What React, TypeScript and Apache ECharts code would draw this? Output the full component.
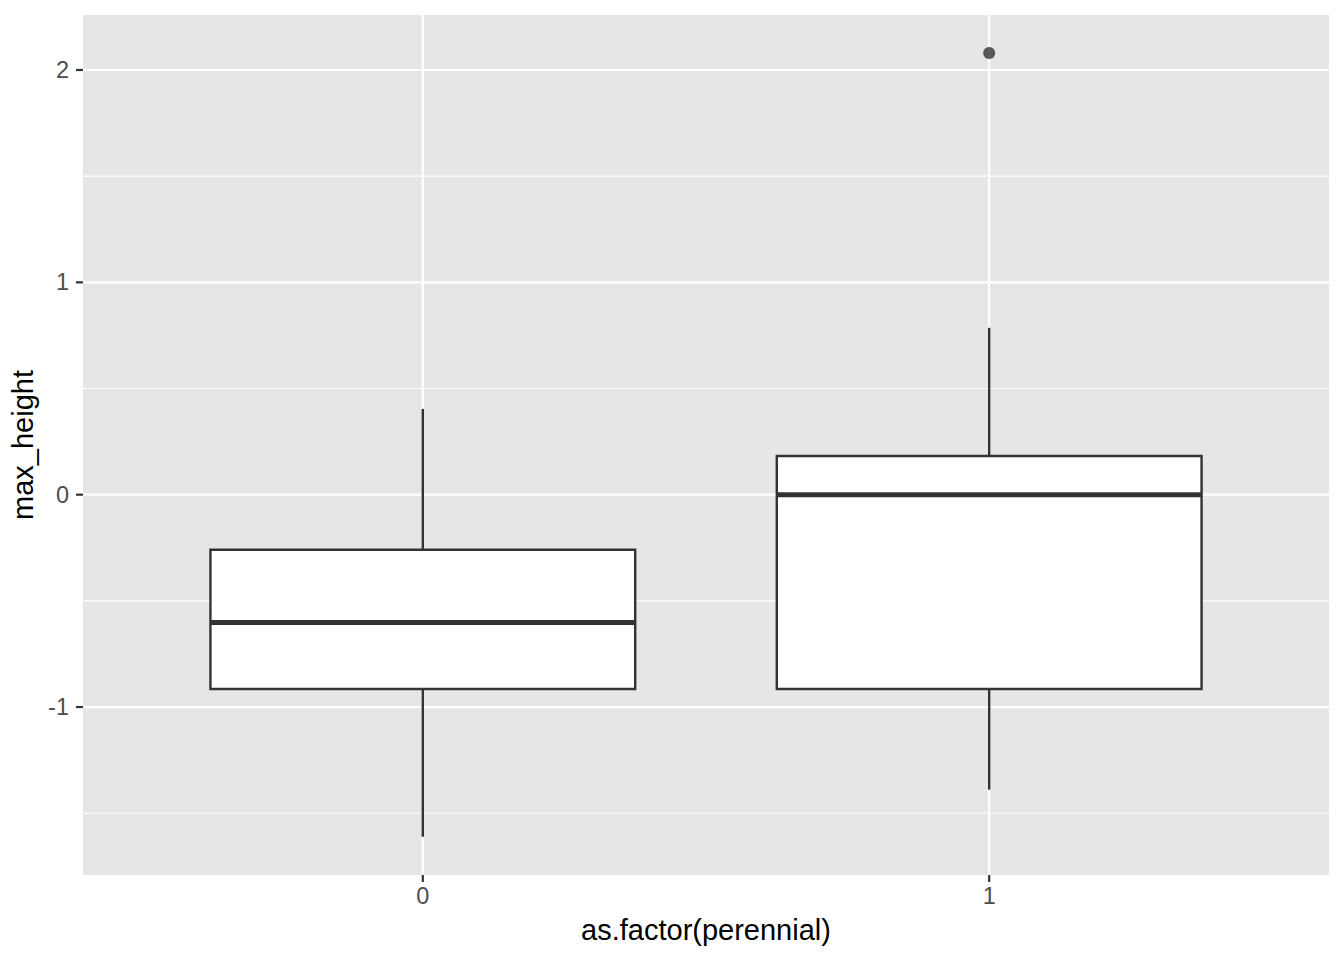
import React, { useEffect, useRef } from "react";
import * as echarts from "echarts";

const categories = ["0", "1"];
const lowerWhisker = [-1.611, -1.389];
const q1 = [-0.915, -0.915];
const median = [-0.602, 0.0];
const q3 = [-0.259, 0.182];
const upperWhisker = [0.404, 0.786];
const outliers: [number, number][] = [[1, 2.08]];
const yMajorTicks = [-1, 0, 1, 2];
const yMinorTicks = [-1.5, -0.5, 0.5, 1.5];
const xPositions = [0, 1];

const DARK = "#333333";
const FONT = "Liberation Sans, Arial, sans-serif";

export default function App() {
  const ref = useRef<HTMLDivElement>(null);
  useEffect(() => {
    if (!ref.current) return;
    const chart = echarts.init(ref.current, undefined, { renderer: "svg" });

    const gridData: [number, number][] = [];
    yMajorTicks.forEach((v) => gridData.push([0, v]));
    yMinorTicks.forEach((v) => gridData.push([1, v]));
    xPositions.forEach((v) => gridData.push([2, v]));

    const boxData = categories.map((_, i) => [
      xPositions[i],
      lowerWhisker[i],
      q1[i],
      median[i],
      q3[i],
      upperWhisker[i],
    ]);

    const option: any = {
      animation: false,
      backgroundColor: "#ffffff",
      textStyle: { fontFamily: FONT },
      grid: {
        left: 83,
        right: 15,
        top: 15,
        bottom: 85,
        show: true,
        backgroundColor: "#E6E6E6",
        borderWidth: 0,
      },
      xAxis: {
        type: "value",
        min: -0.6,
        max: 1.6,
        name: "as.factor(perennial)",
        nameLocation: "middle",
        nameGap: 40,
        nameTextStyle: { color: "#000000", fontSize: 29, fontFamily: FONT },
        axisLine: { show: false },
        splitLine: { show: false },
        axisTick: { show: false },
        axisLabel: {
          show: true,
          customValues: xPositions,
          margin: 9,
          color: "#4D4D4D",
          fontSize: 23.5,
          fontFamily: FONT,
          formatter: (v: number) => {
            const idx = xPositions.indexOf(Math.round(v));
            return idx >= 0 ? categories[idx] : "";
          },
        },
      },
      yAxis: {
        type: "value",
        min: -1.791,
        max: 2.259,
        name: "max_height",
        nameLocation: "middle",
        nameGap: 40,
        nameTextStyle: { color: "#000000", fontSize: 29, fontFamily: FONT },
        axisLine: { show: false },
        splitLine: { show: false },
        axisTick: { show: false },
        axisLabel: {
          show: true,
          customValues: yMajorTicks,
          margin: 14,
          color: "#4D4D4D",
          fontSize: 23.5,
          fontFamily: FONT,
          formatter: (v: number) => String(Math.round(v)),
        },
      },
      series: [
        {
          type: "custom",
          name: "grid",
          z: 1,
          silent: true,
          clip: false,
          data: gridData,
          renderItem: (params: any, api: any) => {
            const kind = api.value(0);
            const v = api.value(1);
            const cs = params.coordSys;
            if (kind === 2) {
              const p = api.coord([v, 0]);
              const bottom = cs.y + cs.height;
              return {
                type: "group",
                children: [
                  {
                    type: "line",
                    shape: { x1: p[0], y1: cs.y, x2: p[0], y2: bottom },
                    style: { stroke: "#ffffff", lineWidth: 2.2 },
                  },
                  {
                    type: "line",
                    shape: { x1: p[0], y1: bottom, x2: p[0], y2: bottom + 7 },
                    style: { stroke: DARK, lineWidth: 2.2 },
                  },
                ],
              };
            }
            const p = api.coord([0, v]);
            if (kind === 0) {
              return {
                type: "group",
                children: [
                  {
                    type: "line",
                    shape: { x1: cs.x, y1: p[1], x2: cs.x + cs.width, y2: p[1] },
                    style: { stroke: "#ffffff", lineWidth: 2.2 },
                  },
                  {
                    type: "line",
                    shape: { x1: cs.x - 7, y1: p[1], x2: cs.x, y2: p[1] },
                    style: { stroke: DARK, lineWidth: 2.2 },
                  },
                ],
              };
            }
            return {
              type: "line",
              shape: { x1: cs.x, y1: p[1], x2: cs.x + cs.width, y2: p[1] },
              style: { stroke: "#ffffff", lineWidth: 1.1 },
            };
          },
        },
        {
          type: "custom",
          name: "boxes",
          z: 2,
          data: boxData,
          renderItem: (params: any, api: any) => {
            const x = api.value(0);
            const lo = api.coord([x, api.value(1)]);
            const b1 = api.coord([x, api.value(2)]);
            const md = api.coord([x, api.value(3)]);
            const b3 = api.coord([x, api.value(4)]);
            const hi = api.coord([x, api.value(5)]);
            const left = api.coord([x - 0.375, 0])[0];
            const right = api.coord([x + 0.375, 0])[0];
            const cx = lo[0];
            return {
              type: "group",
              children: [
                {
                  type: "line",
                  shape: { x1: cx, y1: b3[1], x2: cx, y2: hi[1] },
                  style: { stroke: DARK, lineWidth: 2.4 },
                },
                {
                  type: "line",
                  shape: { x1: cx, y1: b1[1], x2: cx, y2: lo[1] },
                  style: { stroke: DARK, lineWidth: 2.4 },
                },
                {
                  type: "rect",
                  shape: { x: left, y: b3[1], width: right - left, height: b1[1] - b3[1] },
                  style: { fill: "#ffffff", stroke: DARK, lineWidth: 2.4 },
                },
                {
                  type: "line",
                  shape: { x1: left, y1: md[1], x2: right, y2: md[1] },
                  style: { stroke: DARK, lineWidth: 5 },
                },
              ],
            };
          },
        },
        {
          type: "scatter",
          name: "outliers",
          z: 3,
          data: outliers,
          symbol: "circle",
          symbolSize: 12,
          itemStyle: { color: DARK },
        },
      ],
    };
    chart.setOption(option);
    return () => chart.dispose();
  }, []);
  return (
    <div
      ref={ref}
      style={{ position: "fixed", left: 0, top: 0, width: 1344, height: 960 }}
    />
  );
}
